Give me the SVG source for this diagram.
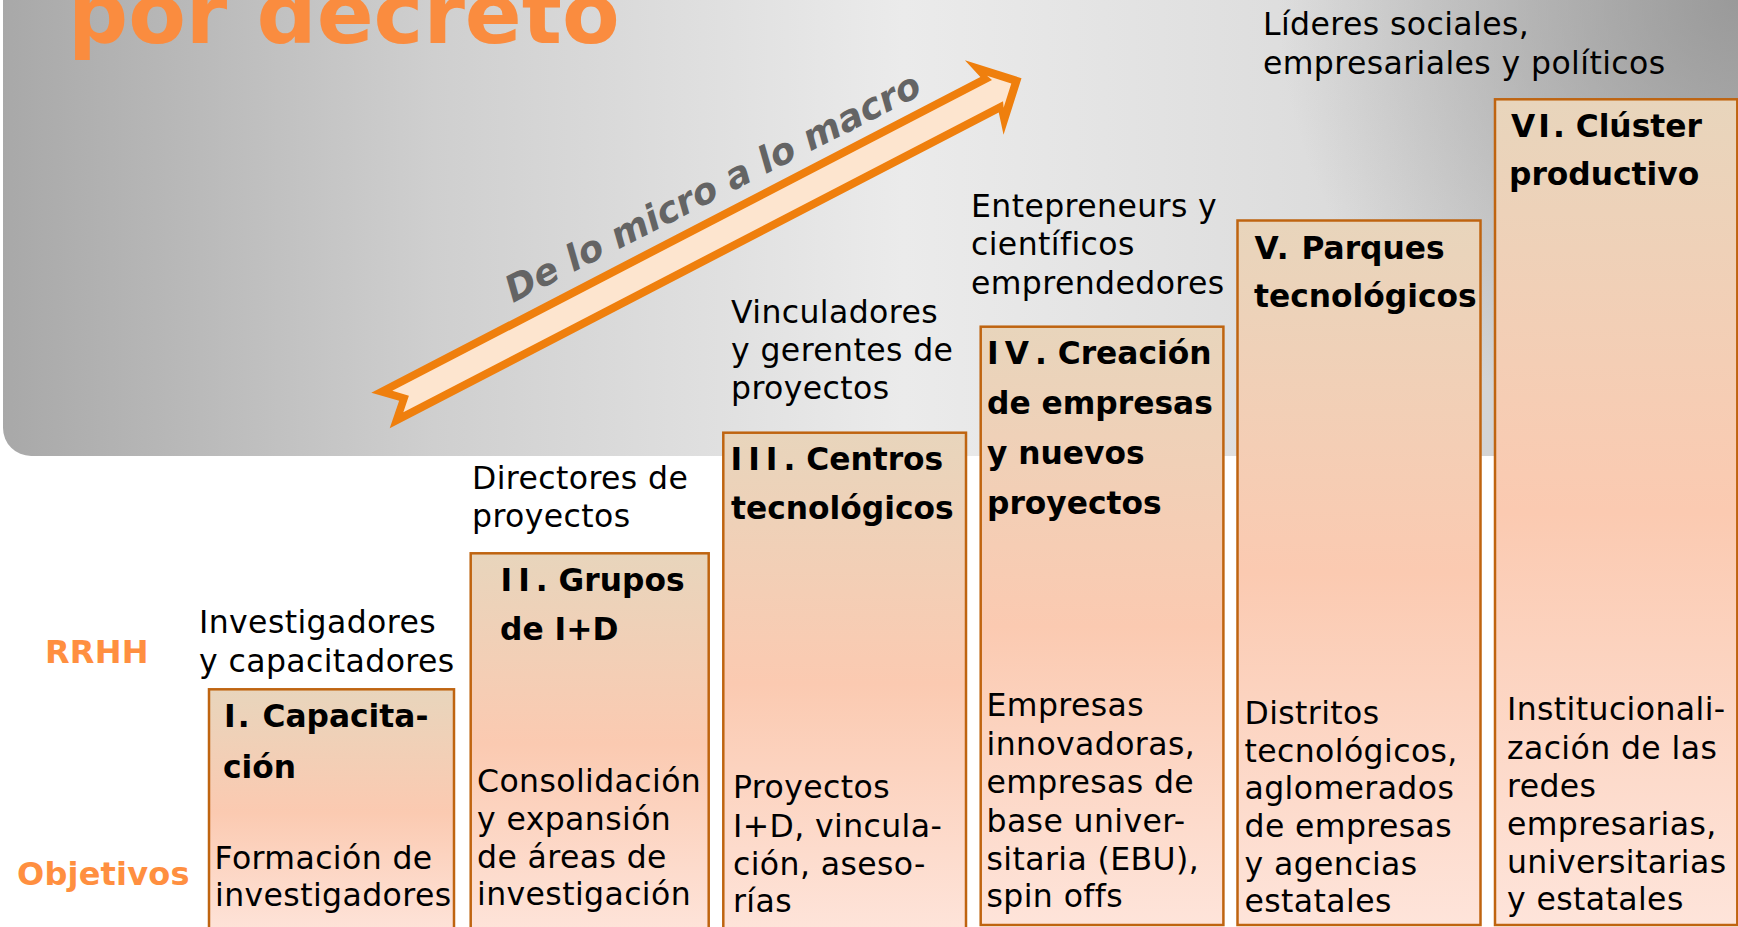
<svg xmlns="http://www.w3.org/2000/svg" width="1738" height="927" viewBox="0 0 1738 927">
<defs>
<linearGradient id="panelH" x1="0" y1="0" x2="1738" y2="0" gradientUnits="userSpaceOnUse">
<stop offset="0" stop-color="#A8A8A8"/>
<stop offset="0.25" stop-color="#CFCFCF"/>
<stop offset="0.52" stop-color="#EBEBEB"/>
<stop offset="0.75" stop-color="#DDDDDD"/>
<stop offset="1" stop-color="#C8C8C8"/>
</linearGradient>
<radialGradient id="panelTR" cx="1738" cy="0" r="460" gradientUnits="userSpaceOnUse">
<stop offset="0" stop-color="#8E8E8E" stop-opacity="0.8"/>
<stop offset="1" stop-color="#8E8E8E" stop-opacity="0"/>
</radialGradient>
<linearGradient id="boxFill" x1="0" y1="0" x2="0" y2="1">
<stop offset="0" stop-color="#E8D5BC"/>
<stop offset="0.5" stop-color="#FBCAB1"/>
<stop offset="1" stop-color="#FEE4DA"/>
</linearGradient>
<style>
.box{fill:url(#boxFill);stroke:#BF6410;stroke-width:2.5}
.t{font-family:"DejaVu Sans",Verdana,sans-serif;font-size:31.5px;letter-spacing:0.4px;fill:#000}
.b{font-family:"DejaVu Sans",Verdana,sans-serif;font-size:31.3px;font-weight:bold;fill:#000}
.rn{letter-spacing:6px}
.lab{font-family:"DejaVu Sans",Verdana,sans-serif;font-size:32px;letter-spacing:0.2px;font-weight:bold;fill:#FF8F40}
</style>
</defs>

<g id="panel">
<path d="M3,-5 H1738 V456 H31 A28,28 0 0 1 3,428 Z" fill="url(#panelH)"/>
<path d="M3,-5 H1738 V456 H31 A28,28 0 0 1 3,428 Z" fill="url(#panelTR)"/>
</g>

<text id="title" x="68" y="43" font-family="'DejaVu Sans',Verdana,sans-serif" font-size="84" font-weight="bold" fill="#FA8C3F">por decreto</text>

<g id="arrow" transform="translate(380.5,410.5) rotate(-27.4)">
<polygon points="0,-20 686,-20 680,-42 722,0 680,42 686,20 0,20 21,0" fill="#EF7F0D"/>
<polygon points="19.5,-12 695,-12 692.5,-18 710.5,0 692.5,18 695,12 19.5,12 32,0" fill="#FDE5CF"/>
</g>
<text id="arrow-label" transform="translate(513,303) rotate(-27)" font-family="'DejaVu Sans',Verdana,sans-serif" font-size="36.5" font-weight="bold" font-style="italic" fill="#646464">De lo micro a lo macro</text>

<g id="row-labels">
<text class="lab" x="45" y="663">RRHH</text>
<text class="lab" x="17" y="885">Objetivos</text>
</g>

<g id="rrhh-labels">
<text class="t" x="199" y="633">Investigadores</text>
<text class="t" x="199" y="671.5">y capacitadores</text>
<text class="t" x="472" y="489">Directores de</text>
<text class="t" x="472" y="526.5">proyectos</text>
<text class="t" x="731" y="323">Vinculadores</text>
<text class="t" x="731" y="361">y gerentes de</text>
<text class="t" x="731" y="399">proyectos</text>
<text class="t" x="971" y="216.5">Entepreneurs y</text>
<text class="t" x="971" y="255">científicos</text>
<text class="t" x="971" y="293.5">emprendedores</text>
<text class="t" x="1263" y="35">Líderes sociales,</text>
<text class="t" x="1263" y="73.5">empresariales y políticos</text>
</g>

<g id="box1">
<rect class="box" x="209" y="689.3" width="245" height="245"/>
<text class="b" x="224" y="727"><tspan style="letter-spacing:2px">I.</tspan> Capacita-</text>
<text class="b" x="223" y="777.5">ción</text>
<text class="t" x="214.5" y="869">Formación de</text>
<text class="t" x="215" y="906">investigadores</text>
</g>

<g id="box2">
<rect class="box" x="470.7" y="553.3" width="238" height="381"/>
<text class="b" x="500.5" y="590.5"><tspan class="rn">II</tspan>. Grupos</text>
<text class="b" x="500" y="640">de I+D</text>
<text class="t" x="477" y="791.5">Consolidación</text>
<text class="t" x="477" y="829.5">y expansión</text>
<text class="t" x="477" y="867.5">de áreas de</text>
<text class="t" x="477" y="905">investigación</text>
</g>

<g id="box3">
<rect class="box" x="723.3" y="432.7" width="242.7" height="501"/>
<text class="b" x="730.5" y="470"><tspan class="rn">III</tspan>. Centros</text>
<text class="b" x="731" y="518.5">tecnológicos</text>
<text class="t" x="733" y="798">Proyectos</text>
<text class="t" x="733" y="836.5">I+D, vincula-</text>
<text class="t" x="733" y="875">ción, aseso-</text>
<text class="t" x="733" y="912">rías</text>
</g>

<g id="box4">
<rect class="box" x="980.7" y="326.7" width="242.7" height="598.3"/>
<text class="b" x="987" y="363.5"><tspan class="rn">IV</tspan>. Creación</text>
<text class="b" x="987" y="413.5">de empresas</text>
<text class="b" x="987" y="463.5">y nuevos</text>
<text class="b" x="987" y="513.5">proyectos</text>
<text class="t" x="986.5" y="716">Empresas</text>
<text class="t" x="986.5" y="754.5">innovadoras,</text>
<text class="t" x="986.5" y="793">empresas de</text>
<text class="t" x="986.5" y="831.5">base univer-</text>
<text class="t" x="986.5" y="870">sitaria (EBU),</text>
<text class="t" x="986.5" y="907">spin offs</text>
</g>

<g id="box5">
<rect class="box" x="1237.5" y="220.5" width="243" height="704.5"/>
<text class="b" x="1254.5" y="258.5"><tspan style="letter-spacing:2px">V.</tspan> Parques</text>
<text class="b" x="1254" y="306.5">tecnológicos</text>
<text class="t" x="1244.5" y="723.5">Distritos</text>
<text class="t" x="1244.5" y="761.5">tecnológicos,</text>
<text class="t" x="1244.5" y="798.5">aglomerados</text>
<text class="t" x="1244.5" y="836.5">de empresas</text>
<text class="t" x="1244.5" y="875">y agencias</text>
<text class="t" x="1244.5" y="912">estatales</text>
</g>

<g id="box6">
<rect class="box" x="1495" y="99.3" width="242.3" height="825.7"/>
<text class="b" x="1511" y="136.5"><tspan style="letter-spacing:3px">VI</tspan>. Clúster</text>
<text class="b" x="1509" y="185">productivo</text>
<text class="t" x="1507" y="720">Institucionali-</text>
<text class="t" x="1507" y="758.5">zación de las</text>
<text class="t" x="1507" y="796.5">redes</text>
<text class="t" x="1507" y="835">empresarias,</text>
<text class="t" x="1507" y="873">universitarias</text>
<text class="t" x="1507" y="910">y estatales</text>
</g>
</svg>
